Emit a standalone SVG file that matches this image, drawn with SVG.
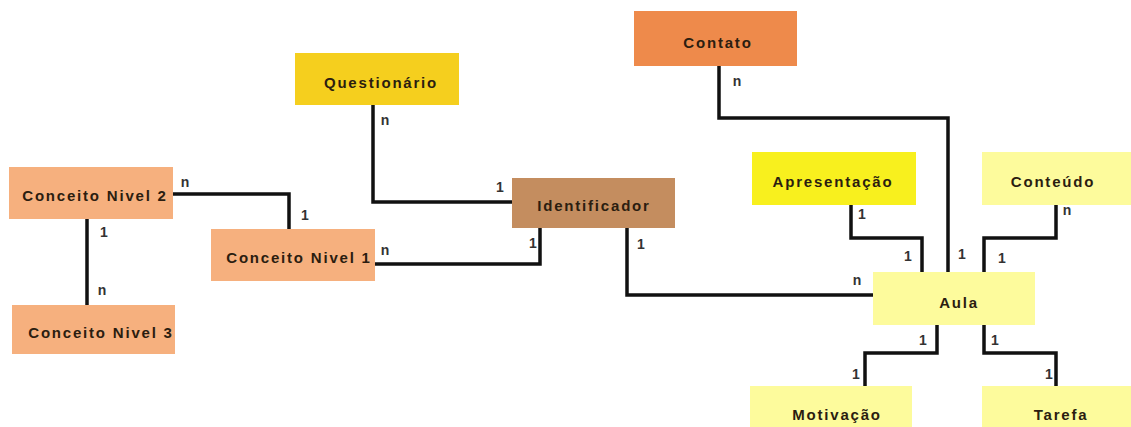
<svg xmlns="http://www.w3.org/2000/svg" width="1131" height="427" viewBox="0 0 1131 427">
<style>
.t{font-family:"Liberation Sans",Arial,sans-serif;font-weight:bold;font-size:15px;letter-spacing:1.8px;fill:#2b1d10;text-anchor:middle;dominant-baseline:central}
.l{font-family:"Liberation Sans",Arial,sans-serif;font-weight:bold;font-size:14px;fill:#333;text-anchor:middle;dominant-baseline:central}
.c{fill:none;stroke:#111;stroke-width:3.5}
</style>
<rect width="1131" height="427" fill="#fff"/>
<g id="connectors">
<path class="c" d="M173,194 H289 V229"/>
<path class="c" d="M87,219 V305"/>
<path class="c" d="M373,105 V202 H512"/>
<path class="c" d="M375,264 H540 V228"/>
<path class="c" d="M719,66 V118 H948 V272"/>
<path class="c" d="M851,205 V238 H922 V272"/>
<path class="c" d="M1056,205 V238 H984 V272"/>
<path class="c" d="M627,228 V295 H873"/>
<path class="c" d="M937,325 V353 H865 V386"/>
<path class="c" d="M984,325 V353 H1056 V386"/>
<text class="l" x="185" y="182">n</text>
<text class="l" x="305" y="215">1</text>
<text class="l" x="104" y="232">1</text>
<text class="l" x="102" y="290">n</text>
<text class="l" x="385" y="120">n</text>
<text class="l" x="500" y="187">1</text>
<text class="l" x="385" y="250">n</text>
<text class="l" x="533" y="243">1</text>
<text class="l" x="737" y="81">n</text>
<text class="l" x="962" y="254">1</text>
<text class="l" x="862" y="214">1</text>
<text class="l" x="908" y="256">1</text>
<text class="l" x="1067" y="210">n</text>
<text class="l" x="1002" y="258">1</text>
<text class="l" x="641" y="244">1</text>
<text class="l" x="857" y="280">n</text>
<text class="l" x="923" y="340">1</text>
<text class="l" x="995" y="340">1</text>
<text class="l" x="856" y="374">1</text>
<text class="l" x="1049" y="374">1</text>
</g>
<g id="conceito2"><rect x="9" y="167" width="164" height="52" fill="#F6B07E"/><text class="t" x="95" y="195">Conceito Nivel 2</text></g>
<g id="conceito3"><rect x="12" y="305" width="163" height="49" fill="#F6B07E"/><text class="t" x="101" y="332">Conceito Nivel 3</text></g>
<g id="conceito1"><rect x="211" y="229" width="164" height="52" fill="#F6B07E"/><text class="t" x="299" y="257">Conceito Nivel 1</text></g>
<g id="questionario"><rect x="295" y="53" width="164" height="52" fill="#F5CF1E"/><text class="t" x="381" y="82">Questionário</text></g>
<g id="identificador"><rect x="512" y="178" width="163" height="50" fill="#C48D5F"/><text class="t" x="594" y="205">Identificador</text></g>
<g id="contato"><rect x="634" y="11" width="163" height="55" fill="#EE8A4B"/><text class="t" x="718" y="42">Contato</text></g>
<g id="apresentacao"><rect x="752" y="152" width="164" height="53" fill="#F8F01E"/><text class="t" x="833" y="181">Apresentação</text></g>
<g id="conteudo"><rect x="982" y="152" width="160" height="53" fill="#FDFB9C"/><text class="t" x="1053" y="181">Conteúdo</text></g>
<g id="aula"><rect x="873" y="272" width="162" height="53" fill="#FDFB9C"/><text class="t" x="959" y="302">Aula</text></g>
<g id="motivacao"><rect x="750" y="386" width="162" height="50" fill="#FDFB9C"/><text class="t" x="837" y="414">Motivação</text></g>
<g id="tarefa"><rect x="982" y="386" width="160" height="50" fill="#FDFB9C"/><text class="t" x="1061" y="414">Tarefa</text></g>
</svg>
